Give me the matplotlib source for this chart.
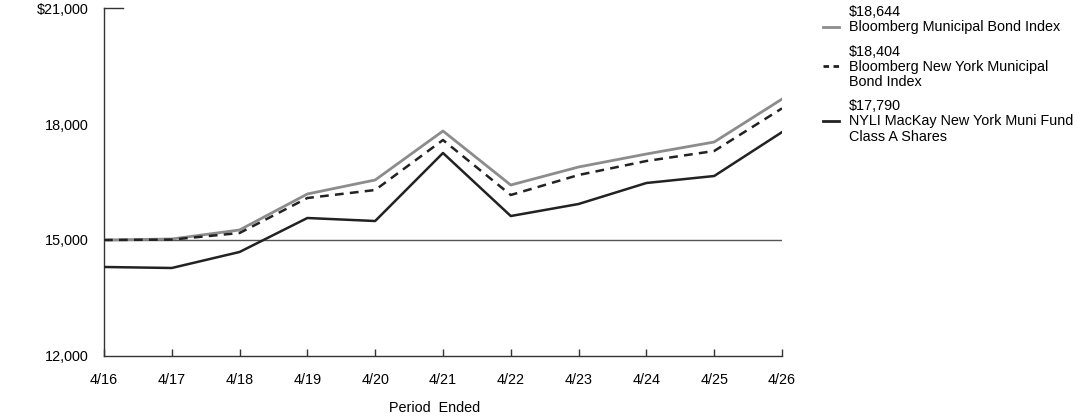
import numpy as np
import matplotlib.pyplot as plt
from matplotlib.lines import Line2D

plt.rcParams['font.family'] = ['Liberation Sans', 'DejaVu Sans']

periods = ["4/16", "4/17", "4/18", "4/19", "4/20", "4/21", "4/22", "4/23", "4/24", "4/25", "4/26"]

# Growth of $15,000
muni_index = [15000, 15026, 15259, 16190, 16552, 17819, 16422, 16888, 17224, 17534, 18644]
ny_muni_index = [15000, 15010, 15181, 16086, 16293, 17586, 16164, 16681, 17043, 17302, 18404]
fund_a = [14302, 14276, 14690, 15569, 15491, 17250, 15620, 15931, 16474, 16655, 17790]

yticks = [12000, 15000, 18000, 21000]
ytick_labels = ["12,000", "15,000", "18,000", "$21,000"]

x = np.arange(len(periods))
fs = 10.4

fig = plt.figure(figsize=(10.92, 4.17), dpi=100)
ax = fig.add_axes([0.0952, 0.1463, 0.6209, 0.8345])

ax.axhline(15000, color="#555555", lw=1.0, zorder=1)
ax.plot(x, muni_index, color="#8c8c8c", lw=2.0, zorder=3)
ax.plot(x, ny_muni_index, color="#222222", lw=1.8, ls=(0, (3.5, 2.5)), zorder=4)
ax.plot(x, fund_a, color="#222222", lw=1.8, zorder=5)

ax.set_xlim(0, len(periods) - 1)
ax.set_ylim(12000, 21000)
ax.set_xticks(x)
ax.set_xticklabels(periods)
ax.set_yticks(yticks)
ax.set_yticklabels(ytick_labels)
ax.tick_params(axis="x", direction="in", length=5, width=1, color="#333333", pad=12, labelsize=fs)
ax.tick_params(axis="y", length=0, pad=11, labelsize=fs)

for s in ["top", "right"]:
    ax.spines[s].set_visible(False)
for s in ["left", "bottom"]:
    ax.spines[s].set_color("#333333")
    ax.spines[s].set_linewidth(1.0)

# short tick at top of value axis
ax.plot([0, 0.028], [21000, 21000], color="#333333", lw=1.0,
        transform=ax.get_yaxis_transform(), clip_on=False)

fig.text(0.398, 1 - 408 / 417, "Period  Ended", ha="center", va="center", fontsize=fs)

# legend drawn by hand
entries = [
    ("$18,644", "Bloomberg Municipal Bond Index", "#8c8c8c", "-", 27),
    ("$18,404", "Bloomberg New York Municipal\nBond Index", "#222222", (0, (2.0, 1.6)), 66),
    ("$17,790", "NYLI MacKay New York Muni Fund\nClass A Shares", "#222222", "-", 121),
]
H = 417.0
W = 1092.0
for value, name, color, ls, ypx in entries:
    yf = 1 - ypx / H
    fig.add_artist(Line2D([823 / W, 839 / W], [yf, yf], color=color, lw=2.0, ls=ls))
    fig.text(849 / W, 1 - (ypx - 14.5) / H, value, ha="left", va="center", fontsize=fs)
    fig.text(849 / W, yf + 6.5 / H, name, ha="left", va="top", fontsize=fs, linespacing=1.15)

fig.savefig("out.png", dpi=100)
